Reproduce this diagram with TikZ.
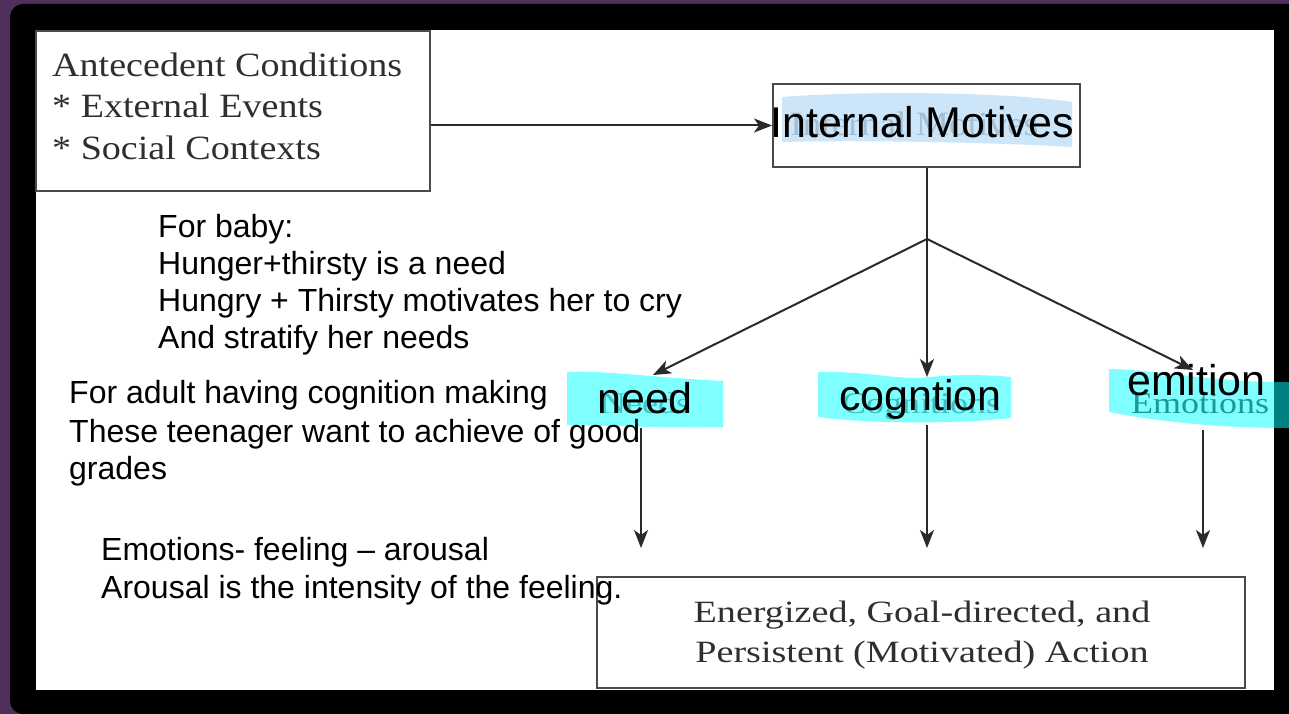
\documentclass[tikz,border=0pt]{standalone}
\usepackage{fontspec}
\usepackage{graphicx}
\setmainfont{Liberation Serif}
\newfontfamily\sansf{Liberation Sans}
\usetikzlibrary{arrows.meta}

\definecolor{plum}{HTML}{4F2F5B}
\definecolor{boxline}{HTML}{4A4A4A}
\definecolor{ink}{HTML}{2F2F2F}
\definecolor{wire}{HTML}{2A2A2A}
\definecolor{marker}{HTML}{00FFFF}
\definecolor{pale}{HTML}{9ACCF4}

% horizontal stretch for the wide book serif
\newcommand{\widen}[2]{\scalebox{#1}[1]{#2}}

\begin{document}
\begin{tikzpicture}[x=1pt, y=-1pt,
  boxframe/.style={draw=boxline, line width=2pt, inner sep=0, fill=none},
  bookline/.style={font=\fontsize{34}{40}\selectfont, text=ink, anchor=base west, inner sep=0},
  actionline/.style={font=\fontsize{31}{38}\selectfont, text=ink, anchor=base, inner sep=0},
  noteline/.style={font=\sansf\fontsize{32}{36}\selectfont, text=black, anchor=base west, inner sep=0},
  bigword/.style={font=\sansf\fontsize{43}{48}\selectfont, text=black, anchor=base west, inner sep=0},
  ghost/.style={font=\fontsize{30}{34}\selectfont, anchor=base west, inner sep=0},
  link/.style={draw=wire, line width=2pt, -{Stealth[length=18pt, width=14pt, inset=5pt]}},
  plainlink/.style={draw=wire, line width=2pt},
  marker pen/.style={fill=marker, fill opacity=0.5},
  pale pen/.style={fill=pale, fill opacity=0.5}
]

% slide frame
\fill[plum] (0,0) rectangle (1289,714);
\useasboundingbox (0,0) rectangle (1289,714);
\fill[black, rounded corners=13pt] (10,4) rectangle (1330,714);
\fill[white] (36,30) rectangle (1274,690);

% boxes of the motivation model
\node[boxframe, minimum width=394pt, minimum height=160pt] (ante) at (233,111) {};
\node[boxframe, minimum width=307pt, minimum height=83pt] (motive) at (926.5,125.5) {};
\node[boxframe, minimum width=648pt, minimum height=111pt] (action) at (921,632.5) {};

% antecedent conditions
\node[bookline] (ant1) at (52,77) {\widen{1.12}{Antecedent Conditions}};
\node[bookline] (ant2) at (52,118) {\widen{1.12}{* External Events}};
\node[bookline] (ant3) at (52,160) {\widen{1.12}{* Social Contexts}};

% outcome
\node[actionline] (act1) at (922,622) {\widen{1.23}{Energized, Goal-directed, and}};
\node[actionline] (act2) at (922,662) {\widen{1.23}{Persistent (Motivated) Action}};

% printed labels underneath the handwritten overlay
\node[ghost, text=black!30, font=\fontsize{34}{38}\selectfont] (ghostIM) at (790,136) {\widen{1.1}{Internal Motives}};
\node[ghost, text=black!45] (ghostN) at (600,413) {\widen{1.2}{Needs}};
\node[ghost, text=black!50] (ghostC) at (842,413) {\widen{1.2}{Cognitions}};
\node[ghost, text=black!80] (ghostE) at (1131,413) {\widen{1.2}{Emotions}};

% highlighter strokes
\path[pale pen] (782,97) .. controls (840,92) and (990,90) .. (1072,102)
  -- (1072,147) .. controls (990,142) and (850,140) .. (782,142) -- cycle;
\path[marker pen] (567,372) .. controls (600,370) and (660,378) .. (723,381)
  -- (723,427) .. controls (680,428) and (610,426) .. (567,425) -- cycle;
\path[marker pen] (818,372) .. controls (870,371) and (900,381) .. (930,377)
  .. controls (960,374) and (990,375) .. (1011,377)
  -- (1011,418) .. controls (960,424) and (870,424) .. (818,417) -- cycle;
\path[marker pen] (1109,369) .. controls (1160,370) and (1220,383) .. (1289,382)
  -- (1289,428) .. controls (1220,428) and (1160,422) .. (1109,412) -- cycle;

% handwritten overlay words
\node[bigword] (im) at (770,138) {Internal Motives};
\node[bigword] (need) at (597,413) {need};
\node[bigword] (cog) at (839,410) {cogntion};
\node[bigword] (emo) at (1127,395) {emition};

% connector ends
\coordinate (fork) at (927,239);
\coordinate (tipN) at (653,375);
\coordinate (tipC) at (927,377);
\coordinate (tipE) at (1193,370);
\coordinate (fromN) at (641,428);
\coordinate (fromC) at (927,425);
\coordinate (fromE) at (1203,430);
\coordinate (toN) at (641,548);
\coordinate (toC) at (927,548);
\coordinate (toE) at (1203,548);

% connectors
\draw[link] (ante.east |- motive.west) -- (motive.west);
\draw[plainlink] (motive.south -| fork) -- (fork);
\draw[link] (fork) -- (tipN);
\draw[link] (fork) -- (tipC);
\draw[link] (fork) -- (tipE);
\draw[link] (fromN) -- (toN);
\draw[link] (fromC) -- (toC);
\draw[link] (fromE) -- (toE);

% notes
\node[noteline] (baby1) at (158,237) {For baby:};
\node[noteline] (baby2) at (158,274) {Hunger+thirsty is a need};
\node[noteline] (baby3) at (158,311) {Hungry + Thirsty motivates her to cry};
\node[noteline] (baby4) at (158,348) {And stratify her needs};
\node[noteline] (adult1) at (69,403) {For adult having cognition making};
\node[noteline] (adult2) at (69,442) {These teenager want to achieve of good};
\node[noteline] (adult3) at (69,479) {grades};
\node[noteline] (feel1) at (101,560) {Emotions- feeling – arousal};
\node[noteline] (feel2) at (101,598) {Arousal is the intensity of the feeling.};

\end{tikzpicture}
\end{document}
